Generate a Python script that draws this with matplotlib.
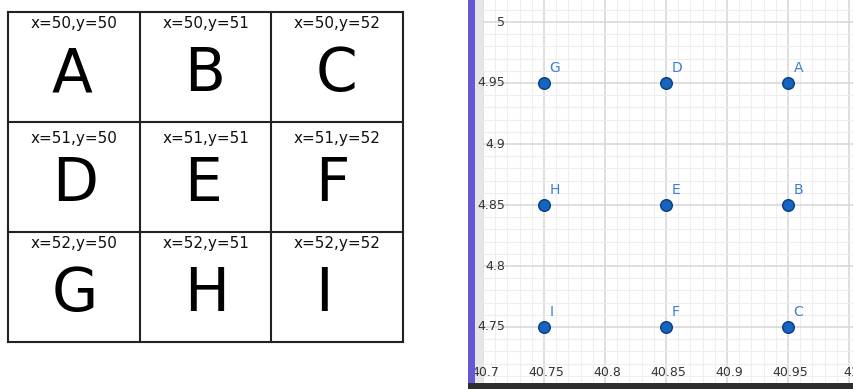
import matplotlib
matplotlib.use("Agg")
import matplotlib.pyplot as plt
from matplotlib.patches import Rectangle
from matplotlib.ticker import MultipleLocator

# datos de la tabla (izquierda)
letras = ["A", "B", "C", "D", "E", "F", "G", "H", "I"]
valores_x = [50, 51, 52]
valores_y = [50, 51, 52]

# datos del grafico (derecha)
puntos_x = [40.95, 40.95, 40.95, 40.85, 40.85, 40.85, 40.75, 40.75, 40.75]
puntos_y = [4.95, 4.85, 4.75, 4.95, 4.85, 4.75, 4.95, 4.85, 4.75]
ticks_x = [40.7, 40.75, 40.8, 40.85, 40.9, 40.95, 41]
ticks_y = [5, 4.95, 4.9, 4.85, 4.8, 4.75]

W, H = 854, 389
fig = plt.figure(figsize=(W / 100, H / 100), dpi=100)
fig.patch.set_facecolor("white")

# 1. Tabla 3x3
ax_t = fig.add_axes([0, 0, 460 / W, 1])
ax_t.set_xlim(0, 460)
ax_t.set_ylim(H, 0)
ax_t.axis("off")

izq, arriba = 8, 12
ancho, alto = 131.7, 110
desp_titulo = [11, 16, 11]
for i in range(4):
    ax_t.plot([izq + i * ancho, izq + i * ancho], [arriba, arriba + 3 * alto], color="#222222", lw=1.5)
    ax_t.plot([izq, izq + 3 * ancho], [arriba + i * alto, arriba + i * alto], color="#222222", lw=1.5)

for fila, vx in enumerate(valores_x):
    for col, vy in enumerate(valores_y):
        x0 = izq + col * ancho
        y0 = arriba + fila * alto
        ax_t.text(x0 + ancho / 2, y0 + desp_titulo[fila], "x=%d,y=%d" % (vx, vy),
                  ha="center", va="center", fontsize=11, color="#111111")
        ax_t.text(x0 + 44, y0 + 79, letras[fila * 3 + col],
                  ha="left", va="baseline", fontsize=43, color="black")

# 2. Grafico tipo GeoGebra
izq_px, der_px, abajo_px = 468, 854, 383
escala = 1220.0  # pixeles por unidad
x_min = 40.7 - (483 - izq_px) / escala
x_max = x_min + (der_px - izq_px) / escala
y_min = 4.75 - (abajo_px - 327) / escala
y_max = y_min + abajo_px / escala

ax = fig.add_axes([izq_px / W, (H - abajo_px) / H, (der_px - izq_px) / W, abajo_px / H])
ax.set_xlim(x_min, x_max)
ax.set_ylim(y_min, y_max)
ax.xaxis.set_major_locator(MultipleLocator(0.05))
ax.yaxis.set_major_locator(MultipleLocator(0.05))
ax.xaxis.set_minor_locator(MultipleLocator(0.01))
ax.yaxis.set_minor_locator(MultipleLocator(0.01))
ax.grid(which="major", color="#d6d6d6", lw=1.1)
ax.grid(which="minor", color="#eeeeee", lw=0.8)
ax.tick_params(which="both", length=0, labelbottom=False, labelleft=False)
for s in ax.spines.values():
    s.set_visible(False)
ax.set_axisbelow(True)

# franja gris a la izquierda
ax.add_patch(Rectangle((0, 0), (483 - izq_px) / (der_px - izq_px), 1, transform=ax.transAxes,
                       facecolor="#e6e6e6", edgecolor="none", zorder=1))

ax.scatter(puntos_x, puntos_y, s=70, color="#1565c0", edgecolor="#0b3c7c", lw=1, zorder=3)
for px, py, nombre in zip(puntos_x, puntos_y, letras):
    ax.annotate(nombre, (px, py), xytext=(4, 8), textcoords="offset points",
                ha="left", va="baseline", fontsize=10, color="#3c7ed6", zorder=4)

y_etiq_x = 4.75 - 45 / escala
for t in ticks_x:
    ax.text(t + 2 / escala, y_etiq_x, ("%g" % t), ha="center", va="center",
            fontsize=9, color="#333333", clip_on=True, zorder=4)
x_etiq_y = 40.7 + 22 / escala
for t in ticks_y:
    ax.text(x_etiq_y, t, ("%g" % t), ha="right", va="center",
            fontsize=9, color="#333333", zorder=4)

# barra morada y barra inferior
fig.patches.append(Rectangle((izq_px / W, 0), 7 / W, 1, transform=fig.transFigure,
                             facecolor="#6657d4", edgecolor="none", zorder=5))
fig.patches.append(Rectangle((izq_px / W, 0), (der_px - izq_px) / W, (H - abajo_px) / H,
                             transform=fig.transFigure, facecolor="#2e2e2e", edgecolor="none", zorder=5))

fig.savefig("out.png", dpi=100)
